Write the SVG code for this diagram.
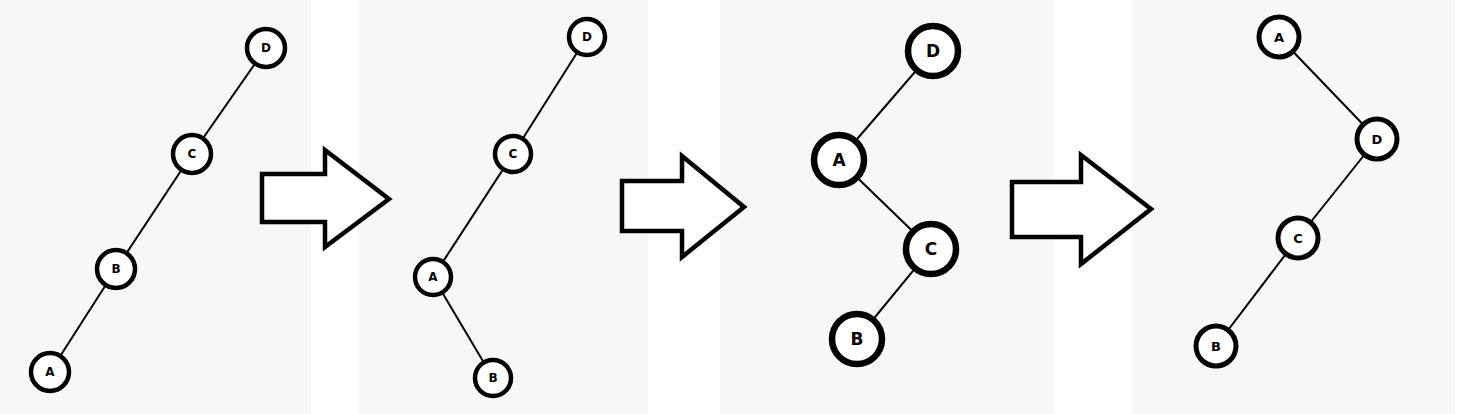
<svg xmlns="http://www.w3.org/2000/svg" width="1458" height="414" viewBox="0 0 1458 414">
<style>
.panel{fill:#f7f7f7}
.edge{stroke:#000;stroke-width:2;fill:none}
.node circle{fill:#fff;stroke:#000}
.node text{font-family:"DejaVu Sans","Liberation Sans",Arial,sans-serif;font-weight:bold;text-anchor:middle;dominant-baseline:central;fill:#000}
.s circle{stroke-width:4.5}
.s text{font-size:12px}
.m circle{stroke-width:5}
.m text{font-size:13px}
.l circle{stroke-width:6.5}
.l text{font-size:17px}
.arrow{fill:#fff;stroke:#000;stroke-width:4.5;stroke-linejoin:miter}
</style>
<rect width="1458" height="414" fill="#fff"/>
<g id="panels">
<rect class="panel" x="0" y="0" width="311" height="414"/>
<rect class="panel" x="358" y="0" width="290" height="414"/>
<rect class="panel" x="720" y="0" width="334" height="414"/>
<rect class="panel" x="1132" y="0" width="323" height="414"/>
</g>
<g id="connectors">
<line class="edge" x1="266" y1="48" x2="192" y2="154"/>
<line class="edge" x1="192" y1="154" x2="116" y2="269"/>
<line class="edge" x1="116" y1="269" x2="50" y2="372"/>
<line class="edge" x1="587" y1="37" x2="513" y2="154"/>
<line class="edge" x1="513" y1="154" x2="433" y2="277"/>
<line class="edge" x1="433" y1="277" x2="493" y2="378"/>
<line class="edge" x1="933" y1="51" x2="839" y2="160"/>
<line class="edge" x1="839" y1="160" x2="931" y2="249"/>
<line class="edge" x1="931" y1="249" x2="857" y2="339"/>
<line class="edge" x1="1279" y1="37" x2="1377" y2="139"/>
<line class="edge" x1="1377" y1="139" x2="1298" y2="238"/>
<line class="edge" x1="1298" y1="238" x2="1216" y2="346"/>
</g>
<g id="arrows">
<polygon id="arrow1" class="arrow" points="262,174 325,174 325,150 389,199 325,247 325,222 262,222"/>
<polygon id="arrow2" class="arrow" points="622,181 682,181 682,156 744,207 682,257 682,231 622,231"/>
<polygon id="arrow3" class="arrow" points="1012,182 1081,182 1081,155 1151,209 1081,264 1081,237 1012,237"/>
</g>
<g id="p1D" class="node s"><circle cx="266" cy="48" r="19"/><text x="266" y="48">D</text></g>
<g id="p1C" class="node s"><circle cx="192" cy="154" r="19"/><text x="192" y="154">C</text></g>
<g id="p1B" class="node s"><circle cx="116" cy="269" r="19"/><text x="116" y="269">B</text></g>
<g id="p1A" class="node s"><circle cx="50" cy="372" r="19"/><text x="50" y="372">A</text></g>
<g id="p2D" class="node s"><circle cx="587" cy="37" r="18"/><text x="587" y="37">D</text></g>
<g id="p2C" class="node s"><circle cx="513" cy="154" r="18"/><text x="513" y="154">C</text></g>
<g id="p2A" class="node s"><circle cx="433" cy="277" r="18"/><text x="433" y="277">A</text></g>
<g id="p2B" class="node s"><circle cx="493" cy="378" r="18"/><text x="493" y="378">B</text></g>
<g id="p3D" class="node l"><circle cx="933" cy="51" r="25"/><text x="933" y="51">D</text></g>
<g id="p3A" class="node l"><circle cx="839" cy="160" r="25"/><text x="839" y="160">A</text></g>
<g id="p3C" class="node l"><circle cx="931" cy="249" r="25"/><text x="931" y="249">C</text></g>
<g id="p3B" class="node l"><circle cx="857" cy="339" r="25"/><text x="857" y="339">B</text></g>
<g id="p4A" class="node m"><circle cx="1279" cy="37" r="20"/><text x="1279" y="37">A</text></g>
<g id="p4D" class="node m"><circle cx="1377" cy="139" r="20"/><text x="1377" y="139">D</text></g>
<g id="p4C" class="node m"><circle cx="1298" cy="238" r="20"/><text x="1298" y="238">C</text></g>
<g id="p4B" class="node m"><circle cx="1216" cy="346" r="20"/><text x="1216" y="346">B</text></g>
</svg>
